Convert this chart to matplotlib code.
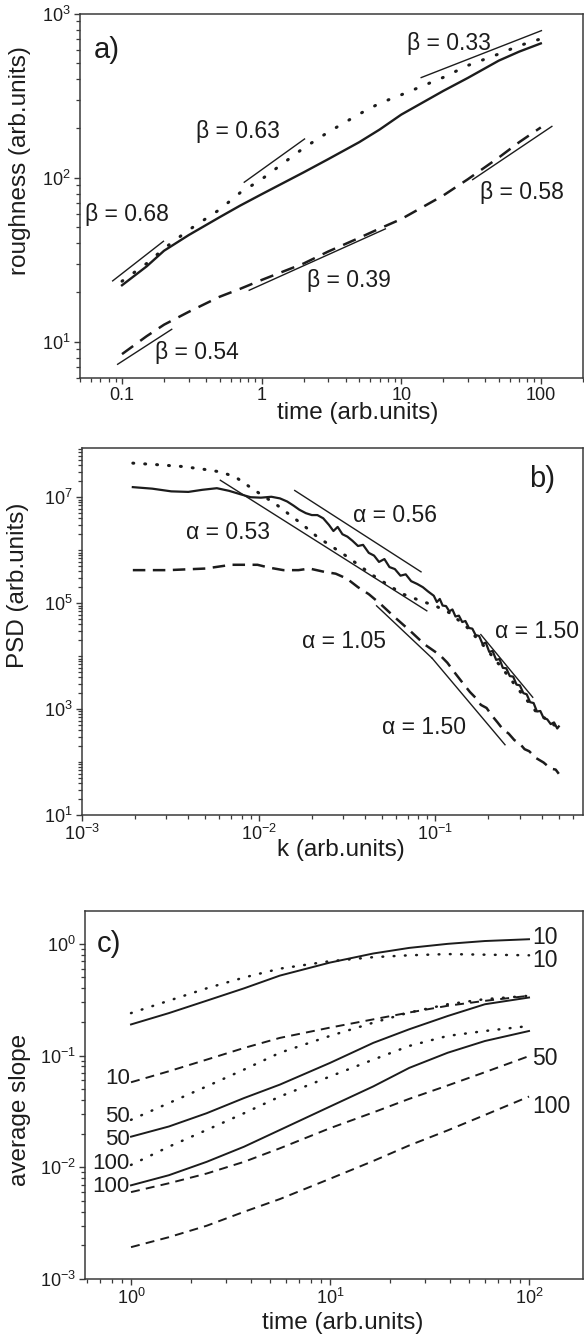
import numpy as np
import matplotlib
matplotlib.use("Agg")
import matplotlib.pyplot as plt
from matplotlib.ticker import LogLocator, NullFormatter

plt.rcParams['font.family'] = ['Liberation Sans', 'DejaVu Sans']
plt.rcParams['mathtext.fontset'] = 'custom'
plt.rcParams['mathtext.rm'] = 'Liberation Sans'
plt.rcParams['mathtext.it'] = 'Liberation Sans:italic'
plt.rcParams['mathtext.bf'] = 'Liberation Sans:bold'

INK = '#1c1c1c'
FRAME = '#3a3a3a'

# ---------------- panel a) roughness vs time ----------------
t_a = [0.1, 0.15, 0.2, 0.3, 0.5, 0.7, 1, 2, 3, 5, 7, 10, 20, 30, 50, 70, 100]
w_solid_a = [22.1, 28.8, 35.9, 44.7, 57.5, 67.6, 79.4, 108, 130, 165, 197, 243, 339, 407, 519, 589, 661]
w_dot_a = [23.4, 30, 37, 48, 64, 81, 98, 152, 190, 245, 285, 321, 410, 485, 570, 640, 705]
w_dash_a = [8.4, 10.8, 12.7, 15.2, 18.8, 21, 23.8, 30, 35.5, 43, 49, 56, 78, 98, 133, 165, 203]

# fitted power laws: (x0, x1, y0, y1)
fits_a = [(0.0857, 0.198, 23.5, 41.0),
          (0.751, 2.03, 94.0, 172.6),
          (13.9, 101, 409, 791),
          (0.093, 0.227, 7.28, 11.9),
          (0.815, 7.7, 20.6, 48.8),
          (32.5, 120, 97.5, 206)]
labels_a = ['β = 0.68', 'β = 0.63', 'β = 0.33', 'β = 0.54', 'β = 0.39', 'β = 0.58']
label_x_a = [0.0545, 0.336, 11.0, 0.173, 2.12, 36.8]
label_y_a = [59.7, 192, 662, 8.57, 23.7, 81]

# ---------------- panel b) PSD vs k ----------------
k_solid_b = [0.00194, 0.0025, 0.0032, 0.0040, 0.0048, 0.0058, 0.0068, 0.0078, 0.0090, 0.0103,
             0.0118, 0.0132, 0.0145, 0.0158, 0.0170, 0.0185, 0.0200, 0.0215, 0.0232, 0.0250,
             0.0265, 0.0280, 0.0298, 0.0318, 0.0340, 0.0365, 0.0390, 0.0420, 0.0450, 0.0480,
             0.0515, 0.0550, 0.0590, 0.0635, 0.068, 0.073, 0.079, 0.085, 0.091,
             0.098, 0.102, 0.106, 0.110, 0.115, 0.120, 0.125, 0.130, 0.136, 0.142,
             0.148, 0.155, 0.162, 0.169, 0.177, 0.185, 0.193, 0.202, 0.211, 0.221,
             0.231, 0.241, 0.252, 0.264, 0.276, 0.288, 0.301, 0.315, 0.329, 0.344,
             0.360, 0.376, 0.393, 0.41, 0.43, 0.45, 0.47, 0.49, 0.50]
psd_solid_b = [1.55e7, 1.45e7, 1.29e7, 1.26e7, 1.38e7, 1.48e7, 1.32e7, 1.15e7, 1.0e7, 9.8e6,
               1.02e7, 9.5e6, 8.3e6, 6.9e6, 5.8e6, 5.0e6, 4.6e6, 4.6e6, 4.0e6, 3.0e6,
               2.3e6, 2.75e6, 2.0e6, 1.8e6, 1.5e6, 1.2e6, 1.26e6, 8.9e5, 7.9e5, 6.0e5,
               6.8e5, 4.8e5, 4.4e5, 3.3e5, 3.5e5, 2.6e5, 2.3e5, 2.0e5, 1.66e5,
               1.38e5, 1.05e5, 1.2e5, 9.0e4, 8.8e4, 7.0e4, 7.6e4, 5.6e4, 5.8e4, 4.4e4,
               4.6e4, 3.4e4, 3.3e4, 2.5e4, 2.4e4, 1.7e4, 1.8e4, 1.2e4, 1.25e4, 8.5e3,
               8.8e3, 6.0e3, 5.9e3, 4.2e3, 4.1e3, 2.9e3, 2.8e3, 2.0e3, 1.9e3, 1.35e3,
               1.3e3, 900, 920, 680, 640, 520, 560, 430, 470]
k_dot_b = [0.00194, 0.0027, 0.0037, 0.0048, 0.0061, 0.0074, 0.0092, 0.0125, 0.0176, 0.0214,
           0.0316, 0.044, 0.065, 0.083, 0.1, 0.12, 0.15, 0.19, 0.24, 0.3, 0.37, 0.45, 0.5]
psd_dot_b = [4.4e7, 4.1e7, 3.8e7, 3.4e7, 3.0e7, 2.4e7, 1.45e7, 7.4e6, 3.1e6, 1.8e6,
             7.6e5, 3.4e5, 1.5e5, 1.1e5, 8.9e4, 6.6e4, 3.6e4, 1.5e4, 5.8e3, 2.2e3, 910, 550, 440]
k_dash_b = [0.00194, 0.00308, 0.0050, 0.0070, 0.00985, 0.0114, 0.0138, 0.0168, 0.0194, 0.0235,
            0.0273, 0.0316, 0.0365, 0.042, 0.049, 0.059, 0.072, 0.087, 0.106, 0.117,
            0.128, 0.142, 0.157, 0.17, 0.181, 0.195, 0.21, 0.225, 0.242, 0.26,
            0.28, 0.30, 0.32, 0.34, 0.37, 0.41, 0.45, 0.48, 0.5]
psd_dash_b = [4.2e5, 4.2e5, 4.5e5, 5.3e5, 5.3e5, 4.7e5, 4.2e5, 4.2e5, 4.5e5, 3.9e5,
              3.6e5, 2.9e5, 2.0e5, 1.48e5, 9.6e4, 5.4e4, 3.0e4, 1.66e4, 1.05e4, 7.5e3,
              5.0e3, 3.2e3, 2.1e3, 1.6e3, 1.2e3, 1.05e3, 740, 560, 410, 345,
              260, 225, 175, 160, 120, 98, 75, 72, 60]

fits_b = [(6.07e-3, 8.95e-2, 2.09e7, 7.16e4),
          (1.6e-2, 8.3e-2, 1.34e7, 3.9e5),
          (4.65e-2, 9.6e-2, 8.9e4, 9.1e3),
          (9.6e-2, 0.248, 9.1e3, 212),
          (0.181, 0.356, 2.55e4, 1.67e3)]
labels_b = ['α = 0.53', 'α = 0.56', 'α = 1.05', 'α = 1.50', 'α = 1.50']
label_x_b = [3.89e-3, 3.4e-2, 1.76e-2, 0.05, 0.217]
label_y_b = [2.13e6, 4.45e6, 1.9e4, 444, 2.96e4]

# ---------------- panel c) average slope vs time ----------------
t_c = [1, 1.55, 2.4, 3.7, 5.6, 10, 16.5, 25, 39, 60, 100]
solid_10 = [0.19, 0.24, 0.31, 0.40, 0.52, 0.68, 0.82, 0.92, 1.0, 1.06, 1.1]
dot_10 = [0.24, 0.31, 0.40, 0.50, 0.60, 0.70, 0.76, 0.79, 0.81, 0.80, 0.79]
dash_10 = [0.0577, 0.0724, 0.092, 0.117, 0.144, 0.178, 0.211, 0.243, 0.279, 0.309, 0.343]
dot_50 = [0.0266, 0.0376, 0.053, 0.075, 0.106, 0.15, 0.197, 0.243, 0.288, 0.32, 0.343]
solid_50 = [0.0188, 0.0232, 0.0305, 0.0417, 0.055, 0.086, 0.13, 0.172, 0.226, 0.288, 0.331]
dot_100 = [0.0105, 0.0153, 0.0216, 0.0305, 0.043, 0.065, 0.092, 0.122, 0.15, 0.166, 0.184]
solid_100 = [0.0069, 0.0085, 0.0112, 0.0153, 0.0216, 0.035, 0.053, 0.0776, 0.106, 0.135, 0.166]
dash_50 = [0.006, 0.0072, 0.0088, 0.0112, 0.0148, 0.0224, 0.031, 0.041, 0.054, 0.071, 0.099]
dash_100 = [0.00193, 0.00237, 0.003, 0.004, 0.0052, 0.0079, 0.0114, 0.0157, 0.0214, 0.0294, 0.043]

right_labels_c = ['10', '10', '50', '100']
right_y_c = [1.15, 0.71, 0.095, 0.035]
left_labels_c = ['10', '50', '50', '100', '100']
left_y_c = [0.0618, 0.0285, 0.0178, 0.0108, 0.0068]

# ---------------- drawing ----------------
fig = plt.figure(figsize=(5.84, 13.42), dpi=100)
ax_a = fig.add_axes([0.137, 0.7183, 0.861, 0.2713])
ax_b = fig.add_axes([0.1404, 0.3927, 0.858, 0.2735])
ax_c = fig.add_axes([0.1455, 0.0469, 0.853, 0.2743])

ann = dict(fontsize=16.5, color=INK, va='center', ha='left')


def style(ax):
    ax.set_xscale('log')
    ax.set_yscale('log')
    for s in ax.spines.values():
        s.set_color(FRAME)
        s.set_linewidth(1.1)
    ax.tick_params(which='both', direction='out', top=False, right=False,
                   colors=FRAME, labelcolor=INK, labelsize=13, pad=2)
    ax.tick_params(which='major', length=4.5, width=1)
    ax.tick_params(which='minor', length=2.6, width=0.9)
    ax.xaxis.set_minor_locator(LogLocator(base=10, subs=np.arange(2, 10)))
    ax.yaxis.set_minor_locator(LogLocator(base=10, subs=np.arange(2, 10)))
    ax.xaxis.set_minor_formatter(NullFormatter())
    ax.yaxis.set_minor_formatter(NullFormatter())


# a)
style(ax_a)
ax_a.plot(t_a, w_solid_a, color=INK, lw=1.7)
ax_a.plot(t_a, w_dot_a, color=INK, lw=2.2, linestyle=(0, (0.3, 4.5)), dash_capstyle='round')
ax_a.plot(t_a, w_dash_a, color=INK, lw=1.8, linestyle=(0, (5.5, 3.5)))
for x0, x1, y0, y1 in fits_a:
    ax_a.plot([x0, x1], [y0, y1], color=INK, lw=1.0)
for lab, x, y in zip(labels_a, label_x_a, label_y_a):
    ax_a.text(x, y, lab, **ann)
ax_a.text(0.0628, 603, 'a)', fontsize=21, color=INK, va='center', ha='left')
ax_a.set_xlim(0.05, 200)
ax_a.set_ylim(6.0, 1000)
ax_a.set_xticks([0.1, 1, 10, 100], labels=['0.1', '1', '10', '100'])
ax_a.set_xlabel('time (arb.units)', fontsize=17.5, color=INK)
ax_a.xaxis.set_label_coords(0.553, -0.096)
ax_a.xaxis.label.set_va('center')
ax_a.set_ylabel('roughness (arb.units)', fontsize=17.5, color=INK)
ax_a.yaxis.set_label_coords(-0.119, 0.596)
ax_a.yaxis.label.set_va('center')

# b)
style(ax_b)
ax_b.plot(k_solid_b, psd_solid_b, color=INK, lw=1.6)
ax_b.plot(k_dot_b, psd_dot_b, color=INK, lw=2.2, linestyle=(0, (0.3, 3.6)), dash_capstyle='round')
ax_b.plot(k_dash_b, psd_dash_b, color=INK, lw=1.8, linestyle=(0, (5.0, 3.0)))
for x0, x1, y0, y1 in fits_b:
    ax_b.plot([x0, x1], [y0, y1], color=INK, lw=1.0)
for lab, x, y in zip(labels_b, label_x_b, label_y_b):
    ax_b.text(x, y, lab, **ann)
ax_b.text(0.34, 2.2e7, 'b)', fontsize=21, color=INK, va='center', ha='left')
ax_b.set_xlim(1e-3, 0.686)
ax_b.set_ylim(10, 10 ** 7.93)
ax_b.set_yticks([1e1, 1e3, 1e5, 1e7])
ax_b.yaxis.set_minor_locator(LogLocator(base=10, subs=np.arange(1, 10)))
ax_b.yaxis.set_minor_formatter(NullFormatter())
ax_b.set_xlabel('k (arb.units)', fontsize=17.5, color=INK)
ax_b.xaxis.set_label_coords(0.517, -0.095)
ax_b.xaxis.label.set_va('center')
ax_b.set_ylabel('PSD (arb.units)', fontsize=17.5, color=INK)
ax_b.yaxis.set_label_coords(-0.127, 0.627)
ax_b.yaxis.label.set_va('center')

# c)
style(ax_c)
for ys in (solid_10, solid_50, solid_100):
    ax_c.plot(t_c, ys, color=INK, lw=1.4)
for ys in (dot_10, dot_50, dot_100):
    ax_c.plot(t_c, ys, color=INK, lw=1.8, linestyle=(0, (0.3, 4.2)), dash_capstyle='round')
for ys in (dash_10, dash_50, dash_100):
    ax_c.plot(t_c, ys, color=INK, lw=1.4, linestyle=(0, (4.6, 3.2)))
for lab, y in zip(right_labels_c, right_y_c):
    ax_c.text(104, y, lab, **ann)
for lab, y in zip(left_labels_c, left_y_c):
    ax_c.text(0.985, y, lab, fontsize=16, color=INK, va='center', ha='right')
ax_c.text(0.67, 1.0, 'c)', fontsize=21, color=INK, va='center', ha='left')
ax_c.set_xlim(0.587, 187)
ax_c.set_ylim(1e-3, 1.97)
ax_c.set_xlabel('time (arb.units)', fontsize=17.5, color=INK)
ax_c.xaxis.set_label_coords(0.518, -0.12)
ax_c.xaxis.label.set_va('center')
ax_c.set_ylabel('average slope', fontsize=17.5, color=INK)
ax_c.yaxis.set_label_coords(-0.130, 0.46)
ax_c.yaxis.label.set_va('center')

fig.savefig('out.png', dpi=100, facecolor='white')
